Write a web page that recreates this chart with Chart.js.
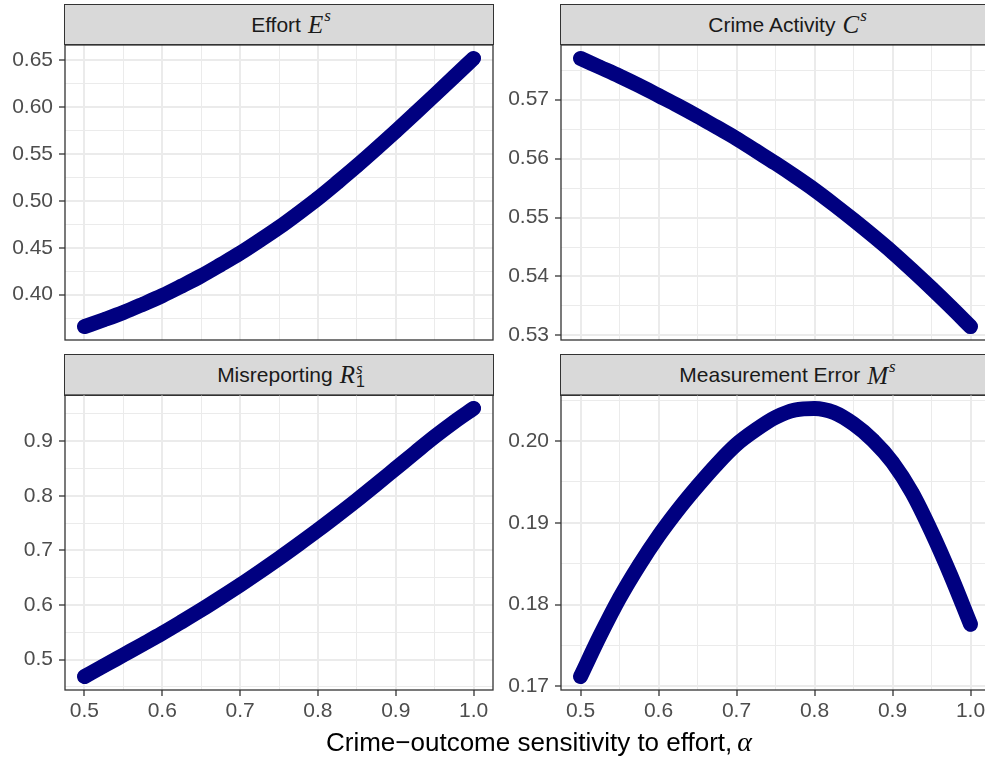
<!DOCTYPE html>
<html>
<head>
<meta charset="utf-8">
<script src="https://cdn.jsdelivr.net/npm/chart.js@4.4.1/dist/chart.umd.min.js"></script>
<style>
  html, body { margin: 0; padding: 0; width: 985px; height: 757px; overflow: hidden; background: #fff; }
  #fig { position: relative; width: 985px; height: 757px; overflow: hidden; }
  canvas { position: absolute; }
  .strip {
    position: absolute; box-sizing: border-box; background: #d9d9d9;
    border: 1.3px solid #333; color: #1a1a1a;
    font: 21px "Liberation Sans", Arial, sans-serif;
    display: flex; align-items: center; justify-content: center;
    padding-left: 24px; white-space: nowrap;
  }
  .m { font-family: "Liberation Serif", "DejaVu Serif", serif; font-style: italic; font-size: 25px; margin-left: 7px; }
  .m sup { font-size: 17px; position: relative; top: -3px; margin-left: 1px; }
  .ss { display: inline-block; vertical-align: -7px; line-height: 13px; font-size: 16px; margin-left: 1px; }
  .ss span { display: block; }
  .ss .up { font-style: normal; }
  #xtitle {
    position: absolute; left: 239px; width: 600px; top: 726px; line-height: 30px;
    text-align: center; color: #000; white-space: nowrap;
    font: 26px "Liberation Sans", Arial, sans-serif;
  }
  #xtitle .m { font-size: 28px; margin-left: 5px; }
</style>
</head>
<body>
<div id="fig">
  <div class="strip" style="left:64px;top:4px;width:430px;height:41px">Effort<span class="m">E<sup>s</sup></span></div>
  <div class="strip" style="left:560px;top:4px;width:431px;height:41px">Crime Activity<span class="m">C<sup>s</sup></span></div>
  <div class="strip" style="left:64px;top:354px;width:430px;height:42px">Misreporting<span class="m">R</span><span class="ss"><span class="m" style="margin:0;font-size:17px">s</span><span class="up">1</span></span></div>
  <div class="strip" style="left:560px;top:354px;width:431px;height:42px">Measurement Error<span class="m">M<sup>s</sup></span></div>

  <canvas id="panelEffort" width="497" height="303" style="left:0;top:41px"></canvas>
  <canvas id="panelCrime" width="497" height="303" style="left:497px;top:41px"></canvas>
  <canvas id="panelMisreport" width="497" height="339" style="left:0;top:391px"></canvas>
  <canvas id="panelMeasErr" width="497" height="339" style="left:497px;top:391px"></canvas>

  <div id="xtitle">Crime−outcome sensitivity to effort,<span class="m">α</span></div>
</div>

<script>
// crime-outcome sensitivity values and the four equilibrium outcomes
const alpha = [0.500, 0.525, 0.550, 0.575, 0.600, 0.625, 0.650, 0.675, 0.700, 0.725, 0.750,
               0.775, 0.800, 0.825, 0.850, 0.875, 0.900, 0.925, 0.950, 0.975, 1.000];
const effort = [0.3660, 0.3733, 0.3810, 0.3898, 0.3990, 0.4093, 0.4200, 0.4319, 0.4442, 0.4577, 0.4717,
                0.4869, 0.5027, 0.5197, 0.5372, 0.5555, 0.5742, 0.5933, 0.6127, 0.6322, 0.6518];
const crime = [0.5770, 0.5755, 0.5740, 0.5724, 0.5707, 0.5690, 0.5672, 0.5653, 0.5634, 0.5613, 0.5592,
               0.5570, 0.5547, 0.5522, 0.5496, 0.5469, 0.5441, 0.5411, 0.5380, 0.5348, 0.5315];
const misreport = [0.4690, 0.4888, 0.5085, 0.5282, 0.5482, 0.5693, 0.5909, 0.6135, 0.6366, 0.6607, 0.6854,
                   0.7110, 0.7372, 0.7643, 0.7920, 0.8208, 0.8500, 0.8792, 0.9080, 0.9350, 0.9598];
const measErr = [0.1712, 0.1762, 0.1808, 0.1848, 0.1884, 0.1916, 0.1945, 0.1972, 0.1996, 0.2014, 0.2029,
                 0.2038, 0.2040, 0.2035, 0.2021, 0.2001, 0.1974, 0.1937, 0.1889, 0.1835, 0.1776];

// axis breaks
const xBreaks = [0.5, 0.6, 0.7, 0.8, 0.9, 1.0];
const xLabels = ['0.5', '0.6', '0.7', '0.8', '0.9', '1.0'];
const xMinor = [0.55, 0.65, 0.75, 0.85, 0.95];

const effortBreaks = [0.40, 0.45, 0.50, 0.55, 0.60, 0.65];
const effortLabels = ['0.40', '0.45', '0.50', '0.55', '0.60', '0.65'];
const effortMinor = [0.375, 0.425, 0.475, 0.525, 0.575, 0.625];

const crimeBreaks = [0.53, 0.54, 0.55, 0.56, 0.57];
const crimeLabels = ['0.53', '0.54', '0.55', '0.56', '0.57'];
const crimeMinor = [0.535, 0.545, 0.555, 0.565, 0.575];

const misreportBreaks = [0.5, 0.6, 0.7, 0.8, 0.9];
const misreportLabels = ['0.5', '0.6', '0.7', '0.8', '0.9'];
const misreportMinor = [0.45, 0.55, 0.65, 0.75, 0.85, 0.95];

const measErrBreaks = [0.17, 0.18, 0.19, 0.20];
const measErrLabels = ['0.17', '0.18', '0.19', '0.20'];
const measErrMinor = [0.175, 0.185, 0.195, 0.205];

const ink = '#000080';
const tickFont = { family: '"Liberation Sans", Arial, sans-serif', size: 21 };

// ggplot-style 5% padding around the data range
function expandRange(values) {
    const lo = Math.min(...values);
    const hi = Math.max(...values);
    const pad = (hi - lo) * 0.05;
    return [lo - pad, hi + pad];
}

function gridTicks(breaks, minor) {
    return function (axis) {
        axis.ticks = breaks.map(v => ({ value: v, major: true }))
            .concat(minor.map(v => ({ value: v, major: false })))
            .filter(t => t.value >= axis.min - 1e-9 && t.value <= axis.max + 1e-9)
            .sort((a, b) => a.value - b.value);
    };
}

function tickLabel(breaks, labels) {
    return function (value) {
        const k = breaks.indexOf(value);
        return k < 0 ? '' : labels[k];
    };
}

const gridStyle = {
    color: '#ebebeb',
    lineWidth: c => (c.tick && c.tick.major ? 2 : 1),
    tickLength: 6,
    tickWidth: 1.3,
    tickColor: c => (c.tick && c.tick.major ? '#333333' : 'rgba(0,0,0,0)')
};

// dark frame round each panel
const panelBorder = {
    id: 'panelBorder',
    afterDraw(chart) {
        const { ctx, chartArea: a } = chart;
        ctx.save();
        ctx.strokeStyle = '#333333';
        ctx.lineWidth = 1.3;
        ctx.strokeRect(a.left, a.top, a.right - a.left, a.bottom - a.top);
        ctx.restore();
    }
};

function drawPanel(id, ys, yBreaks, yLabels, yMinor, yWidth, showX) {
    const el = document.getElementById(id);
    if (!el) return;
    const xr = expandRange(alpha);
    const yr = expandRange(ys);

    new Chart(el.getContext('2d'), {
        type: 'scatter',
        data: {
            datasets: [{
                data: alpha.map((a, i) => ({ x: a, y: ys[i] })),
                showLine: true,
                borderColor: ink,
                backgroundColor: ink,
                borderWidth: 15,
                borderCapStyle: 'round',
                borderJoinStyle: 'round',
                cubicInterpolationMode: 'monotone',
                pointRadius: 7,
                pointHoverRadius: 7,
                pointBorderWidth: 0
            }]
        },
        options: {
            responsive: false,
            animation: false,
            devicePixelRatio: 1,
            layout: {
                autoPadding: false,
                padding: { left: 0, top: 4, right: 4, bottom: showX ? 0 : 4 }
            },
            plugins: { legend: { display: false }, tooltip: { enabled: false } },
            scales: {
                x: {
                    type: 'linear',
                    min: xr[0],
                    max: xr[1],
                    afterBuildTicks: gridTicks(xBreaks, xMinor),
                    afterFit: s => {
                        s.height = showX ? 40 : 0;
                        s.paddingLeft = s.paddingRight = s.paddingTop = s.paddingBottom = 0;
                    },
                    border: { display: false },
                    grid: Object.assign({ drawTicks: showX }, gridStyle),
                    ticks: {
                        display: showX,
                        autoSkip: false,
                        maxRotation: 0,
                        padding: 3,
                        color: '#4d4d4d',
                        font: tickFont,
                        callback: tickLabel(xBreaks, xLabels)
                    }
                },
                y: {
                    type: 'linear',
                    min: yr[0],
                    max: yr[1],
                    afterBuildTicks: gridTicks(yBreaks, yMinor),
                    afterFit: s => {
                        s.width = yWidth;
                        s.paddingLeft = s.paddingRight = s.paddingTop = s.paddingBottom = 0;
                    },
                    border: { display: false },
                    grid: Object.assign({ drawTicks: true }, gridStyle),
                    ticks: {
                        autoSkip: false,
                        padding: 6,
                        color: '#4d4d4d',
                        font: tickFont,
                        callback: tickLabel(yBreaks, yLabels)
                    }
                }
            }
        },
        plugins: [panelBorder]
    });
}

drawPanel('panelEffort', effort, effortBreaks, effortLabels, effortMinor, 65, false);
drawPanel('panelCrime', crime, crimeBreaks, crimeLabels, crimeMinor, 64, false);
drawPanel('panelMisreport', misreport, misreportBreaks, misreportLabels, misreportMinor, 65, true);
drawPanel('panelMeasErr', measErr, measErrBreaks, measErrLabels, measErrMinor, 64, true);
</script>
</body>
</html>
